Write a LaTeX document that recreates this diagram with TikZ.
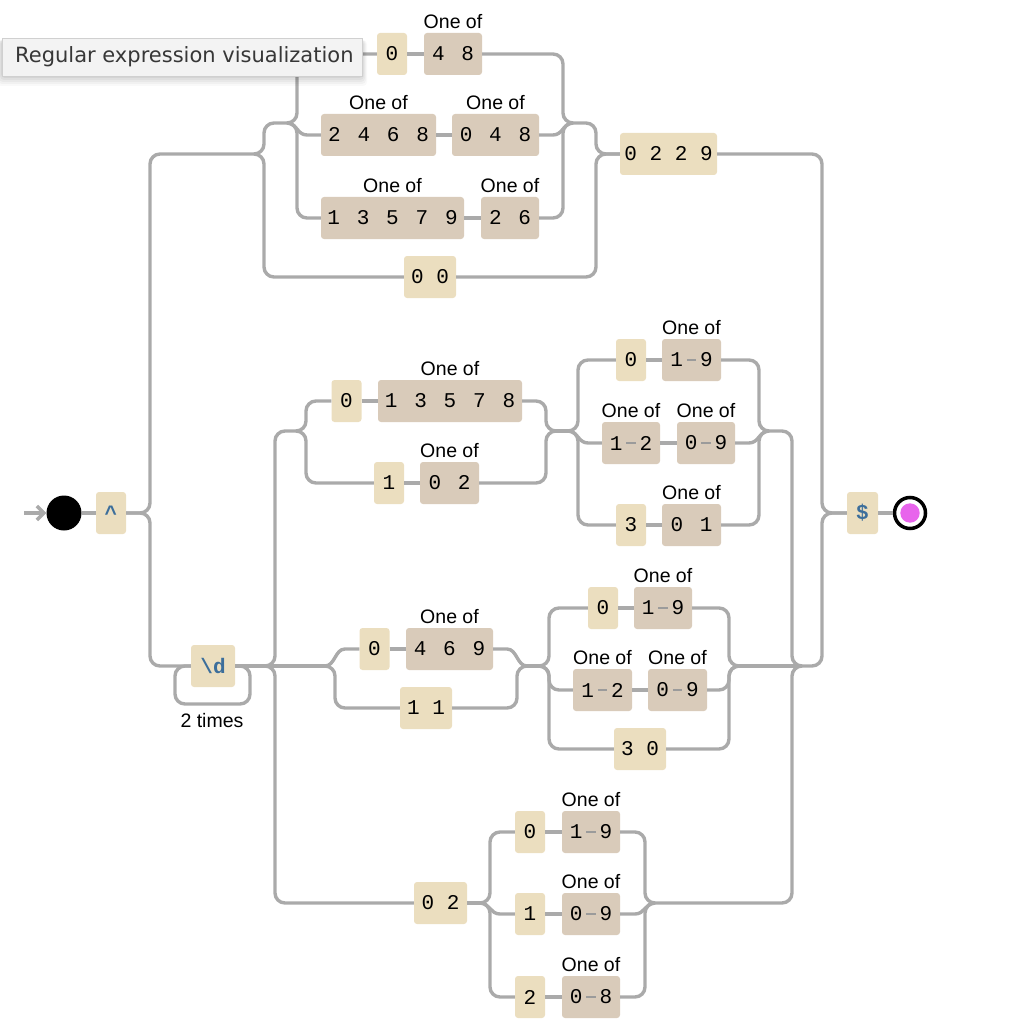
\documentclass[tikz,border=0pt]{standalone}
\usepackage{fontspec}
\setmainfont{Liberation Sans}
\newfontfamily\monof{Liberation Mono}
\newfontfamily\tipf{DejaVu Sans}
\usetikzlibrary{arrows.meta}
\definecolor{litbg}{RGB}{235,222,191}
\definecolor{clsbg}{RGB}{217,203,186}
\definecolor{linec}{RGB}{170,170,170}
\definecolor{ancc}{RGB}{60,110,155}
\definecolor{dashc}{RGB}{155,155,155}
\definecolor{endpink}{RGB}{232,100,236}
\definecolor{tipbg}{RGB}{243,243,243}
\definecolor{tipdraw}{RGB}{208,208,208}
\definecolor{tiptext}{RGB}{55,55,55}
\newcommand\gq{\hspace{16.8pt}}
\newcommand\rng[2]{#1\kern3.8pt\textcolor{dashc}{\rule[6.4pt]{9.5pt}{1.7pt}}\kern3.8pt#2}
\begin{document}
\begin{tikzpicture}[x=1pt,y=-1pt,
  box/.style={rounded corners=3pt, minimum height=42pt, inner sep=0pt, font=\monof\fontsize{21}{24}\selectfont, text=black},
  lit/.style={box, fill=litbg},
  cls/.style={box, fill=clsbg},
  anc/.style={box, fill=litbg, text=ancc, font=\monof\bfseries\fontsize{21}{24}\selectfont},
  lab/.style={font=\fontsize{19.5}{22}\selectfont, inner sep=0pt},
  ln/.style={draw=linec, line width=3.4pt},
  rc/.style={ln, rounded corners=10pt},
  bw/.style={minimum width=#1pt},
]
\useasboundingbox (0,0) rectangle (1014,1032);

% ---------- nodes ----------
\node[circle, fill=black, minimum size=35pt, inner sep=0pt] (start) at (64,513) {};
\node[anc, bw=30] (caret) at (111,513) {\textasciicircum};
\node[anc, bw=31] (dollar) at (862.5,513) {\$};
\node[circle, draw=black, line width=3.5pt, fill=white, minimum size=31pt, inner sep=0pt] (end) at (910,513) {};
\fill[endpink] (end.center) circle[radius=9.7pt];

% upper branch
\node[lit, bw=30] (a0) at (392,54) {0};
\node[cls, bw=58] (a48) at (453,54) {4\gq 8};
\node[cls, bw=115] (b2468) at (378.5,135) {2\gq 4\gq 6\gq 8};
\node[cls, bw=87] (b048) at (495.5,135) {0\gq 4\gq 8};
\node[cls, bw=143] (c13579) at (392.5,218) {1\gq 3\gq 5\gq 7\gq 9};
\node[cls, bw=58] (c26) at (510,218) {2\gq 6};
\node[lit, bw=52] (n00) at (430,277) {0 0};
\node[lit, bw=97] (l0229) at (668.5,154) {0 2 2 9};

% lower branch
\node[anc, bw=44] (dd) at (213,666) {\textbackslash d};
\node[lab] (times) at (212,721) {2 times};

\node[lit, bw=30] (t0) at (346.5,401) {0};
\node[cls, bw=144] (t13578) at (450,401) {1\gq 3\gq 5\gq 7\gq 8};
\node[lit, bw=30] (t1) at (389,483) {1};
\node[cls, bw=59] (t02) at (449.5,483) {0\gq 2};

\node[lit, bw=30] (d10) at (631,360) {0};
\node[cls, bw=59] (d119) at (691.5,360) {\rng19};
\node[cls, bw=58] (d112) at (631,443) {\rng12};
\node[cls, bw=58] (d109) at (706,443) {\rng09};
\node[lit, bw=30] (d13) at (631,525) {3};
\node[cls, bw=59] (d101) at (691.5,525) {0\gq 1};

\node[lit, bw=30] (m0) at (374.5,649) {0};
\node[cls, bw=87] (m469) at (449.5,649) {4\gq 6\gq 9};
\node[lit, bw=52] (m11) at (426,708) {1 1};

\node[lit, bw=30] (e0) at (603,608) {0};
\node[cls, bw=58] (e19) at (663,608) {\rng19};
\node[cls, bw=59] (e12) at (602.5,690) {\rng12};
\node[cls, bw=59] (e09) at (677.5,690) {\rng09};
\node[lit, bw=52] (e30) at (640,749) {3 0};

\node[lit, bw=53] (l02) at (440.5,903) {0 2};
\node[lit, bw=30] (f0) at (530,832) {0};
\node[cls, bw=58] (f19) at (591,832) {\rng19};
\node[lit, bw=30] (f1) at (530,914) {1};
\node[cls, bw=58] (f09) at (591,914) {\rng09};
\node[lit, bw=30] (f2) at (530,997) {2};
\node[cls, bw=58] (f08) at (591,997) {\rng08};

\foreach \n in {a48,b2468,b048,c13579,c26,t13578,t02,d119,d112,d109,d101,m469,e19,e12,e09,f19,f09,f08}
  \node[lab, anchor=base] (lbl-\n) at ([yshift=4pt]\n.north) {One of};

% ---------- junctions ----------
\coordinate (in) at (24,513);
\coordinate (jU) at (254,154);
\coordinate (jI) at (287,123);
\coordinate (jIR) at (573,123);
\coordinate (jT) at (296,431);
\coordinate (jTR) at (556,431);
\coordinate (jD1) at (568,431);
\coordinate (jD1R) at (769,431);
\coordinate (jM) at (325,666);
\coordinate (jMR) at (527,666);
\coordinate (jD2) at (539,666);
\coordinate (jD2R) at (739,666);
\coordinate (jB) at (480,903);
\coordinate (jBR) at (655,903);
\coordinate (jOut) at (802,666);

% ---------- connectors ----------
\draw[ln, -{Straight Barb[length=7pt,width=14pt]}] (in) -- (start.west);
\draw[ln] (start.east) -- (caret.west);
\draw[rc] (caret.east) -- (150,513) -- (150,154) -- (jU);
\draw[rc] (caret.east) -- (150,513) -- (150,666) -- (dd.west);

% upper
\draw[rc] (jU) -- (264,154) -- (264,123) -- (jI);
\draw[rc] (jU) -- (264,154) -- (264,277) -- (n00.west);
\draw[rc] (jI) -- (297,123) -- (297,54) -- (a0.west);
\draw[ln] (jI) .. controls (297,123) and (297,135) .. (307,135) -- (b2468.west);
\draw[rc] (jI) -- (297,123) -- (297,218) -- (c13579.west);
\draw[ln] (a0.east) -- (a48.west);
\draw[ln] (b2468.east) -- (b048.west);
\draw[ln] (c13579.east) -- (c26.west);
\draw[rc] (a48.east) -- (563,54) -- (563,123) -- (jIR);
\draw[ln] (b048.east) -- (553,135) .. controls (563,135) and (563,123) .. (jIR);
\draw[rc] (c26.east) -- (563,218) -- (563,123) -- (jIR);
\draw[rc] (jIR) -- (596,123) -- (596,154) -- (l0229.west);
\draw[rc] (n00.east) -- (596,277) -- (596,154) -- (l0229.west);
\draw[rc] (l0229.east) -- (822,154) -- (822,513) -- (dollar.west);
\draw[ln] (dollar.east) -- (end.west);

% lower
\draw[rc] (dd.east) -- (250,666) -- (250,704) -- (175,704) -- (175,666) -- (dd.west);
\draw[rc] (dd.east) -- (275,666) -- (275,431) -- (jT);
\draw[ln] (dd.east) -- (jM);
\draw[rc] (dd.east) -- (275,666) -- (275,903) -- (l02.west);

% top group
\draw[rc] (jT) -- (306,431) -- (306,401) -- (t0.west);
\draw[rc] (jT) -- (306,431) -- (306,483) -- (t1.west);
\draw[ln] (t0.east) -- (t13578.west);
\draw[ln] (t1.east) -- (t02.west);
\draw[rc] (t13578.east) -- (546,401) -- (546,431) -- (jTR);
\draw[rc] (t02.east) -- (546,483) -- (546,431) -- (jTR);
\draw[ln] (jTR) -- (jD1);
\draw[rc] (jD1) -- (578,431) -- (578,360) -- (d10.west);
\draw[ln] (jD1) .. controls (578,431) and (578,443) .. (588,443) -- (d112.west);
\draw[rc] (jD1) -- (578,431) -- (578,525) -- (d13.west);
\draw[ln] (d10.east) -- (d119.west);
\draw[ln] (d112.east) -- (d109.west);
\draw[ln] (d13.east) -- (d101.west);
\draw[rc] (d119.east) -- (759,360) -- (759,431) -- (jD1R);
\draw[ln] (d109.east) -- (749,443) .. controls (759,443) and (759,431) .. (jD1R);
\draw[rc] (d101.east) -- (759,525) -- (759,431) -- (jD1R);
\draw[rc] (jD1R) -- (792,431) -- (792,666) -- (jOut);

% middle group
\draw[ln] (jM) .. controls (335,666) and (335,649) .. (345,649) -- (m0.west);
\draw[rc] (jM) -- (335,666) -- (335,708) -- (m11.west);
\draw[ln] (m0.east) -- (m469.west);
\draw[ln] (m469.east) -- (507,649) .. controls (517,649) and (517,666) .. (jMR);
\draw[rc] (m11.east) -- (517,708) -- (517,666) -- (jMR);
\draw[ln] (jMR) -- (jD2);
\draw[rc] (jD2) -- (549,666) -- (549,608) -- (e0.west);
\draw[rc] (jD2) -- (549,666) -- (549,690) -- (e12.west);
\draw[rc] (jD2) -- (549,666) -- (549,749) -- (e30.west);
\draw[ln] (e0.east) -- (e19.west);
\draw[ln] (e12.east) -- (e09.west);
\draw[rc] (e19.east) -- (729,608) -- (729,666) -- (jD2R);
\draw[rc] (e09.east) -- (729,690) -- (729,666) -- (jD2R);
\draw[rc] (e30.east) -- (729,749) -- (729,666) -- (jD2R);
\draw[ln] (jD2R) -- (jOut);

% bottom group
\draw[ln] (l02.east) -- (jB);
\draw[rc] (jB) -- (490,903) -- (490,832) -- (f0.west);
\draw[ln] (jB) .. controls (490,903) and (490,914) .. (500,914) -- (f1.west);
\draw[rc] (jB) -- (490,903) -- (490,997) -- (f2.west);
\draw[ln] (f0.east) -- (f19.west);
\draw[ln] (f1.east) -- (f09.west);
\draw[ln] (f2.east) -- (f08.west);
\draw[rc] (f19.east) -- (645,832) -- (645,903) -- (jBR);
\draw[ln] (f09.east) -- (635,914) .. controls (645,914) and (645,903) .. (jBR);
\draw[rc] (f08.east) -- (645,997) -- (645,903) -- (jBR);
\draw[rc] (jBR) -- (792,903) -- (792,666) -- (jOut);
\draw[rc] (jOut) -- (822,666) -- (822,513) -- (dollar.west);

% ---------- tooltip ----------
\foreach \s/\o in {10/0.025,8/0.03,6/0.035,4/0.04,2/0.05}
  \fill[black, opacity=\o, rounded corners=4pt] (2-0.5*\s,40) rectangle (362+0.5*\s,76+\s);
\node[draw=tipdraw, fill=tipbg, line width=0.8pt, minimum width=360pt, minimum height=38pt, anchor=north west, inner sep=0pt] (tip) at (2,38) {};
\node[font=\tipf\fontsize{21}{24}\selectfont, text=tiptext, anchor=west, inner sep=0pt] (tiptxt) at (15,57) {Regular expression visualization};
\end{tikzpicture}
\end{document}
